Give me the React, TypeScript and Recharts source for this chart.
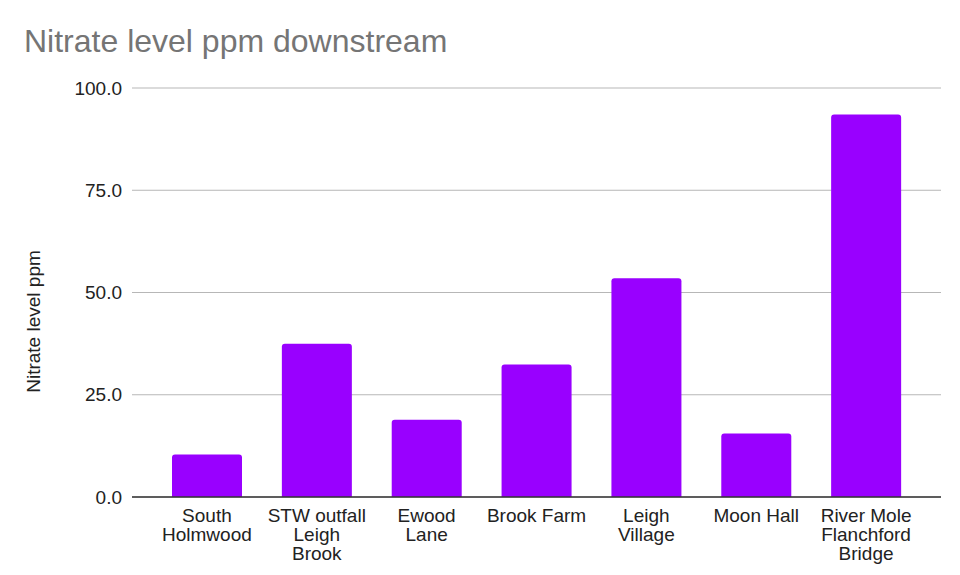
import { BarChart, Bar, XAxis, YAxis, CartesianGrid } from "recharts";

const categories = [
  "South Holmwood",
  "STW outfall Leigh Brook",
  "Ewood Lane",
  "Brook Farm",
  "Leigh Village",
  "Moon Hall",
  "River Mole Flanchford Bridge",
];

// how each category label wraps under its bar
const categoryLines = [
  ["South", "Holmwood"],
  ["STW outfall", "Leigh", "Brook"],
  ["Ewood", "Lane"],
  ["Brook Farm"],
  ["Leigh", "Village"],
  ["Moon Hall"],
  ["River Mole", "Flanchford", "Bridge"],
];

const nitrateValues = [10.4, 37.5, 18.9, 32.4, 53.5, 15.5, 93.5];

const yTicks = [0, 25, 50, 75, 100];

const data = categories.map((name, i) => ({
  name,
  lines: categoryLines[i],
  value: nitrateValues[i],
}));

const FONT = "'Liberation Sans', Arial, sans-serif";

interface TickProps {
  x?: number;
  y?: number;
  index?: number;
}

const CategoryTick = ({ x = 0, y = 0, index = 0 }: TickProps) => {
  const lines = categoryLines[index] ?? [];
  return (
    <text x={x} y={y} textAnchor="middle" fill="#222" fontSize={19} fontFamily={FONT}>
      {lines.map((line, i) => (
        <tspan key={line} x={x} dy={i === 0 ? 13.5 : 19.4}>
          {line}
        </tspan>
      ))}
    </text>
  );
};

const YAxisTitle = ({ viewBox }: { viewBox?: { x: number; y: number; width: number; height: number } }) => {
  if (!viewBox) return null;
  const cx = viewBox.x - 12;
  const cy = viewBox.y + viewBox.height / 2 + 29;
  return (
    <text
      x={cx}
      y={cy}
      transform={`rotate(-90 ${cx} ${cy})`}
      textAnchor="middle"
      fill="#222"
      fontSize={19}
      fontFamily={FONT}
    >
      Nitrate level ppm
    </text>
  );
};

const App = () => {
  return (
    <div style={{ position: "fixed", left: 0, top: 0, width: 960, height: 575, background: "#fff" }}>
      <div
        style={{
          position: "absolute",
          left: 24,
          top: 21,
          fontFamily: FONT,
          fontSize: 32,
          lineHeight: "40px",
          color: "#757575",
        }}
      >
        Nitrate level ppm downstream
      </div>
      <BarChart
        width={960}
        height={575}
        data={data}
        margin={{ top: 88, right: 19, bottom: 48, left: 52 }}
        barCategoryGap={20}
      >
        <CartesianGrid vertical={false} stroke="#b7b7b7" strokeWidth={1} />
        <XAxis
          dataKey="name"
          height={30}
          interval={0}
          padding={{ left: 20, right: 20 }}
          tickLine={false}
          tickSize={6}
          tickMargin={5}
          axisLine={{ stroke: "#333", strokeWidth: 1.5 }}
          tick={<CategoryTick />}
        />
        <YAxis
          width={80}
          domain={[0, 100]}
          ticks={yTicks}
          tickFormatter={(v: number) => v.toFixed(1)}
          axisLine={false}
          tickLine={false}
          tickSize={6}
          tickMargin={4}
          tick={{ fill: "#222", fontSize: 19, fontFamily: FONT }}
          label={<YAxisTitle />}
        />
        <Bar dataKey="value" fill="#9900ff" radius={[3, 3, 0, 0]} isAnimationActive={false} />
      </BarChart>
    </div>
  );
};

export default App;
